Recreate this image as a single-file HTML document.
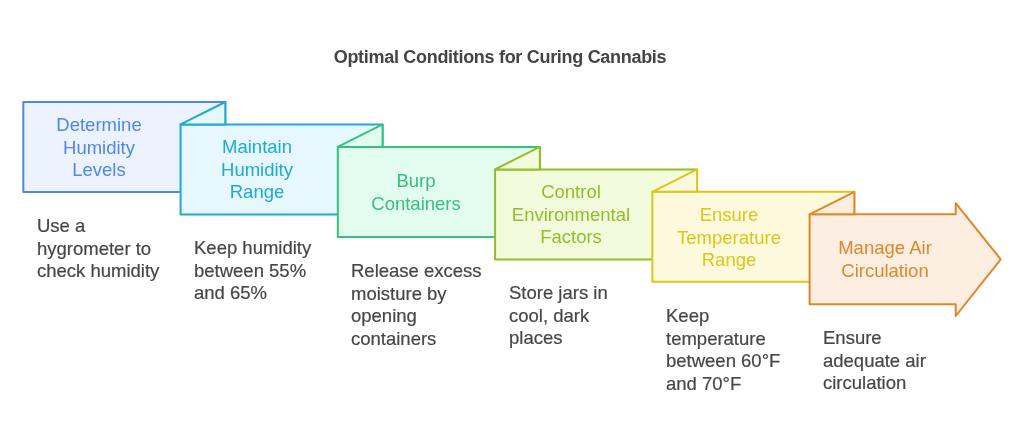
<!DOCTYPE html>
<html><head><meta charset="utf-8"><style>
html,body{margin:0;padding:0;background:#fff;width:1024px;height:440px;overflow:hidden}
body{position:relative;font-family:"Liberation Sans",sans-serif}
svg{position:absolute;left:0;top:0}
.title{position:absolute;will-change:transform;left:0;width:1000px;top:46px;text-align:center;font-weight:bold;font-size:18px;letter-spacing:-0.3px;color:#444444;line-height:22px;white-space:nowrap}
.t{position:absolute;will-change:transform;width:160px;text-align:center;font-size:18.5px;line-height:22.5px;letter-spacing:0px;white-space:nowrap}
.d{position:absolute;will-change:transform;font-size:18.5px;line-height:22.5px;color:#464646;-webkit-text-stroke:0.2px #464646;letter-spacing:0px;white-space:nowrap}
</style></head><body>
<svg width="1024" height="440" viewBox="0 0 1024 440">
<rect x="23.30" y="102.00" width="202" height="90" fill="#ecf2fe" stroke="#4f88e6" stroke-width="2.0" stroke-linejoin="round"/>
<rect x="180.56" y="124.46" width="202" height="90" fill="#e6f7fd" stroke="#1ea9d8" stroke-width="2.0" stroke-linejoin="round"/>
<polygon points="180.56,124.46 225.30,102.00 225.30,124.46" fill="#e6f7fd" stroke="#1ea9d8" stroke-width="2.0" stroke-linejoin="round"/>
<rect x="337.82" y="146.92" width="202" height="90" fill="#e2fcef" stroke="#36c27c" stroke-width="2.0" stroke-linejoin="round"/>
<polygon points="337.82,146.92 382.56,124.46 382.56,146.92" fill="#e2fcef" stroke="#36c27c" stroke-width="2.0" stroke-linejoin="round"/>
<rect x="495.08" y="169.38" width="202" height="90" fill="#f2fcdc" stroke="#91be2b" stroke-width="2.0" stroke-linejoin="round"/>
<polygon points="495.08,169.38 539.82,146.92 539.82,169.38" fill="#f2fcdc" stroke="#91be2b" stroke-width="2.0" stroke-linejoin="round"/>
<rect x="652.34" y="191.84" width="202" height="90" fill="#fdf9dc" stroke="#dcc61a" stroke-width="2.0" stroke-linejoin="round"/>
<polygon points="652.34,191.84 697.08,169.38 697.08,191.84" fill="#fdf9dc" stroke="#dcc61a" stroke-width="2.0" stroke-linejoin="round"/>
<polygon points="809.60,214.30 955.70,214.30 955.70,203.10 1000.70,259.30 955.70,316.00 955.70,304.30 809.60,304.30" fill="#fdeee2" stroke="#e2862a" stroke-width="2.0" stroke-linejoin="round"/>
<polygon points="809.60,214.30 854.34,191.84 854.34,214.30" fill="#fdeee2" stroke="#e2862a" stroke-width="2.0" stroke-linejoin="round"/>
</svg>
<div class="title">Optimal Conditions for Curing Cannabis</div>
<div class="t" style="left:18.80px;top:113.65px;color:#4f88e6">Determine<br>Humidity<br>Levels</div>
<div class="t" style="left:176.66px;top:136.11px;color:#1ea9d8">Maintain<br>Humidity<br>Range</div>
<div class="t" style="left:336.22px;top:169.82px;color:#36c27c">Burp<br>Containers</div>
<div class="t" style="left:491.08px;top:181.03px;color:#91be2b">Control<br>Environmental<br>Factors</div>
<div class="t" style="left:648.74px;top:203.99px;color:#dcc61a">Ensure<br>Temperature<br>Range</div>
<div class="t" style="left:805.10px;top:237.20px;color:#e2862a">Manage Air<br>Circulation</div>
<div class="d" style="left:36.80px;top:214.50px">Use a<br>hygrometer to<br>check humidity</div>
<div class="d" style="left:194.06px;top:237.00px">Keep humidity<br>between 55%<br>and 65%</div>
<div class="d" style="left:351.32px;top:259.50px">Release excess<br>moisture by<br>opening<br>containers</div>
<div class="d" style="left:508.58px;top:282.00px">Store jars in<br>cool, dark<br>places</div>
<div class="d" style="left:665.84px;top:304.50px">Keep<br>temperature<br>between 60°F<br>and 70°F</div>
<div class="d" style="left:823.10px;top:327.00px">Ensure<br>adequate air<br>circulation</div>
</body></html>
